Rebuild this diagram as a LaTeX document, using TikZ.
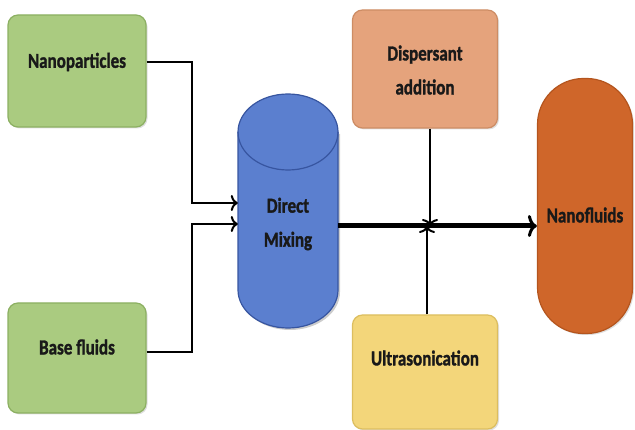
\documentclass[tikz,border=0pt]{standalone}
\usepackage{fontspec}
\setmainfont{Carlito}[BoldFeatures={FakeBold=1.5}]
\usetikzlibrary{arrows.meta,shadows}
\definecolor{gfill}{RGB}{170,203,128}
\definecolor{gline}{RGB}{140,176,98}
\definecolor{dfill}{RGB}{229,163,124}
\definecolor{dline}{RGB}{205,140,100}
\definecolor{ufill}{RGB}{243,214,122}
\definecolor{uline}{RGB}{220,190,95}
\definecolor{bfill}{RGB}{91,127,207}
\definecolor{bline}{RGB}{55,85,160}
\definecolor{ofill}{RGB}{207,102,42}
\definecolor{oline}{RGB}{180,85,30}
\newcommand{\tall}[1]{\scalebox{1}[1.25]{#1}}
\tikzset{
  boxnode/.style={draw, line width=1.2pt, rounded corners=10pt, inner sep=0pt,
    drop shadow={shadow xshift=1.5pt,shadow yshift=-1.5pt,opacity=0.25}},
  lbl/.style={font=\bfseries\fontsize{17}{34}\selectfont, align=center, text=black!90, inner sep=0pt},
  thin arrow/.style={line width=2.4pt, -{To[length=7pt,width=16pt,line width=2pt]}},
  thick arrow/.style={line width=5pt, -{To[length=9pt,width=22pt,line width=3pt]}},
}
\begin{document}
\begin{tikzpicture}[x=1pt,y=-1pt]
\useasboundingbox (0,0) rectangle (635,430);
% boxes
\node[boxnode, fill=gfill, draw=gline, minimum width=138pt, minimum height=112pt] (np) at (77,71) {};
\node[lbl] (npT) at (77,62) {\tall{Nanoparticles}};
\node[boxnode, fill=gfill, draw=gline, minimum width=138pt, minimum height=110pt] (bf) at (77,358) {};
\node[lbl] (bfT) at (77,347) {\tall{Base fluids}};
\node[boxnode, fill=dfill, draw=dline, minimum width=145pt, minimum height=118pt] (da) at (425,69) {};
\node[lbl] (daT) at (425,70) {\tall{Dispersant}\\\tall{addition}};
\node[boxnode, fill=ufill, draw=uline, minimum width=145pt, minimum height=114pt] (us) at (425,372) {};
\node[lbl] (usT) at (425,358) {\tall{Ultrasonication}};
\node[boxnode, fill=ofill, draw=oline, rounded corners=46pt, minimum width=95pt, minimum height=255pt] (nf) at (585,206) {};
\node[lbl] (nfT) at (585,215) {\tall{Nanofluids}};
% cylinder
\node[inner sep=0pt, minimum width=100pt, minimum height=235pt] (mx) at (288,210) {};
\fill[black, opacity=0.2] (240,134) -- (240,292) arc[start angle=180,end angle=360,x radius=50,y radius=-38] -- (340,134) -- cycle;
\filldraw[fill=bfill, draw=bline, line width=1.2pt]
  (238,132) -- (238,290) arc[start angle=180,end angle=360,x radius=50,y radius=-38]
  -- (338,132) arc[start angle=0,end angle=180,x radius=50,y radius=-38] -- cycle;
\draw[bline, line width=1.2pt] (238,132) arc[start angle=180,end angle=360,x radius=50,y radius=-38];
\node[lbl] (mxT) at (288,224) {\tall{Direct}\\\tall{Mixing}};
% connectors
\coordinate (mxA) at (mx.west |- 0,203);
\coordinate (mxB) at (mx.west |- 0,224);
\coordinate (jn) at (430,226);
\draw[thin arrow] (np.east |- 0,62) -| (192,203) -- (mxA);
\draw[thin arrow] (bf.east |- 0,352) -| (192,224) -- (mxB);
\draw[thick arrow] (mx.east |- 0,226) -- (nf.west |- 0,226);
\draw[thin arrow] (da.south -| 430,0) -- (jn);
\draw[thin arrow] (us.north -| 427,0) -- (427,226);
\end{tikzpicture}
\end{document}
